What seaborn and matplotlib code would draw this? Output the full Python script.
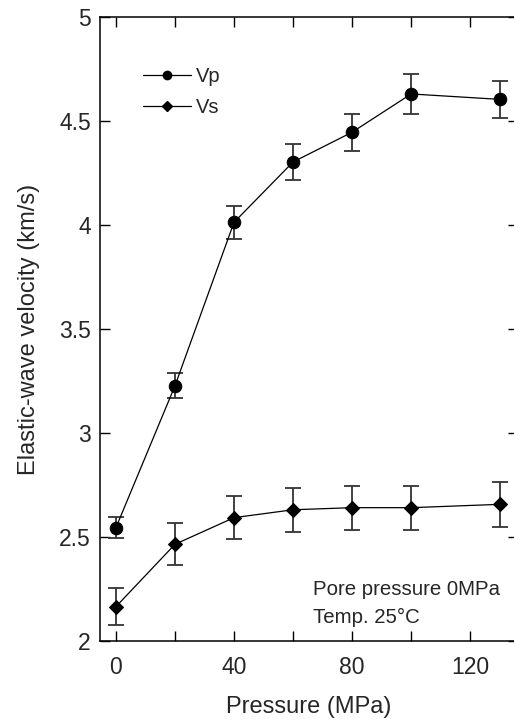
import numpy as np
import pandas as pd
import seaborn as sns
import matplotlib.pyplot as plt
from matplotlib.ticker import FuncFormatter

# Data
pressure = [0, 20, 40, 60, 80, 100, 130]
vp = [2.545, 3.227, 4.013, 4.303, 4.446, 4.630, 4.604]
vp_err = [0.05, 0.06, 0.08, 0.085, 0.09, 0.095, 0.09]
vs = [2.165, 2.465, 2.593, 2.631, 2.641, 2.641, 2.657]
vs_err = [0.088, 0.10, 0.105, 0.105, 0.105, 0.105, 0.108]

df = pd.concat([
    pd.DataFrame({"Pressure": pressure, "Velocity": vp, "err": vp_err, "Wave": "Vp"}),
    pd.DataFrame({"Pressure": pressure, "Velocity": vs, "err": vs_err, "Wave": "Vs"}),
])

sns.set_theme(style="ticks")
plt.rcParams['font.family'] = ['Liberation Sans', 'DejaVu Sans']

fig = plt.figure(figsize=(5.14, 7.22), dpi=100)
ax = fig.add_axes([100 / 514, 81 / 722, 418 / 514, 624 / 722])

# error bars first so markers sit on top
for wave, d in df.groupby("Wave"):
    ax.errorbar(d["Pressure"], d["Velocity"], yerr=d["err"], fmt="none",
                ecolor="#333333", elinewidth=1.3, capsize=5.5, capthick=1.3, zorder=2)

sns.lineplot(data=df, x="Pressure", y="Velocity", style="Wave",
             markers={"Vp": "o", "Vs": "D"}, dashes=False, color="black",
             linewidth=0.9, markeredgecolor="black", markersize=9,
             ax=ax, zorder=3, legend=False)
# diamonds a bit smaller than circles
for line in ax.lines:
    if line.get_marker() == "D":
        line.set_markersize(7.3)

# legend drawn with smaller markers, no frame
h_vp, = ax.plot([], [], "-o", color="black", lw=0.9, ms=6)
h_vs, = ax.plot([], [], "-D", color="black", lw=0.9, ms=4.6)
ax.legend([h_vp, h_vs], ["Vp", "Vs"], frameon=False, fontsize=14.5,
          loc="upper left", bbox_to_anchor=(0.103, 0.920), borderpad=0,
          borderaxespad=0, handlelength=2.4, handletextpad=0.2, labelspacing=0.62)

ax.set_xlim(-5.4, 136.2)
ax.set_ylim(2, 5)
ax.set_xticks(np.arange(0, 121, 20))
ax.xaxis.set_major_formatter(FuncFormatter(lambda v, p: f"{v:g}" if v % 40 == 0 else ""))
ax.set_yticks(np.arange(2, 5.01, 0.5))
ax.yaxis.set_major_formatter(FuncFormatter(lambda v, p: f"{v:g}"))

ax.tick_params(axis="both", which="both", direction="in", length=7.5, width=1,
               color="black", labelsize=16.5, top=True, right=True)
ax.tick_params(axis="x", pad=11)
ax.tick_params(axis="y", pad=6.5)
for s in ax.spines.values():
    s.set_linewidth(1.1)
    s.set_color("black")

ax.set_xlabel("Pressure (MPa)", fontsize=17, labelpad=12)
ax.set_ylabel("Elastic-wave velocity (km/s)", fontsize=17, labelpad=14)

ax.text(0.509, 0.0737, "Pore pressure 0MPa", transform=ax.transAxes, fontsize=14.7)
ax.text(0.509, 0.0288, "Temp. 25°C", transform=ax.transAxes, fontsize=14.7)

fig.savefig("out.png", dpi=100)
